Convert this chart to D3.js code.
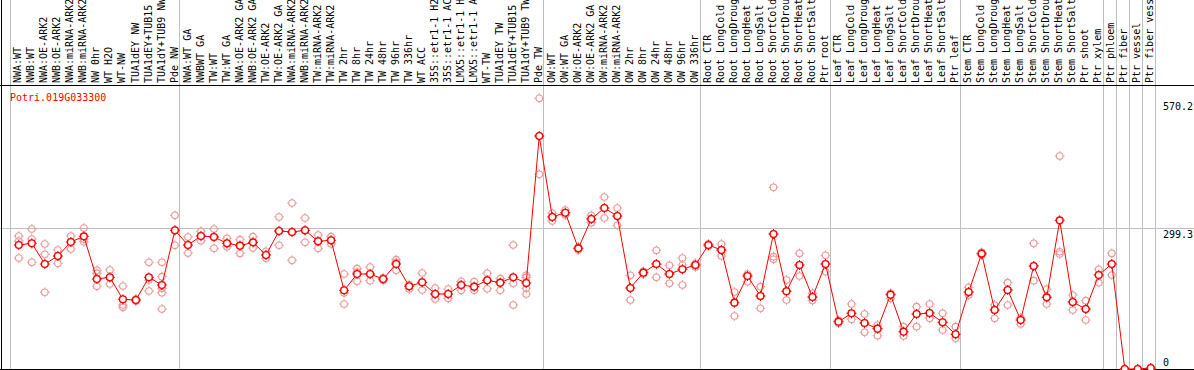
<!DOCTYPE html>
<html>
<head>
<meta charset="utf-8">
<script src="https://cdn.jsdelivr.net/npm/d3@7"></script>
<style>
  html, body { margin: 0; padding: 0; background: #fff; }
  svg { display: block; }
  text { font-family: "DejaVu Sans Mono", monospace; font-size: 10px; }
</style>
</head>
<body>
<div id="chart"></div>
<script>
"use strict";

const geneName = "Potri.019G033300";

const categories = [
  "NWA:WT", "NWB:WT", "NWA:OE-ARK2", "NWB:OE-ARK2", "NWA:miRNA-ARK2", "NWB:miRNA-ARK2",
  "NW 0hr", "WT H2O", "WT-NW", "TUA1dEY NW", "TUA1dEY+TUB15 NW", "TUA1dY+TUB9 NW", "Pde NW",
  "NWA:WT GA", "NWBWT GA", "TW:WT", "TW:WT GA", "NWA:OE-ARK2 GA", "NWB:OE-ARK2 GA",
  "TW:OE-ARK2", "TW:OE-ARK2 GA", "NWA:miRNA-ARK2 GA", "NWB:miRNA-ARK2 GA", "TW:miRNA-ARK2",
  "TW:miRNA-ARK2 GA", "TW 2hr", "TW 8hr", "TW 24hr", "TW 48hr", "TW 96hr", "TW 336hr",
  "WT ACC", "35S::etr1-1 H2O", "35S::etr1-1 ACC", "LMX5::etr1-1 H2O", "LMX5::etr1-1 ACC",
  "WT-TW", "TUA1dEY TW", "TUA1dEY+TUB15 TW", "TUA1dY+TUB9 TW", "Pde TW",
  "OW:WT", "OW:WT GA", "OW:OE-ARK2", "OW:OE-ARK2 GA", "OW:miRNA-ARK2", "OW:miRNA-ARK2 GA",
  "OW 2hr", "OW 8hr", "OW 24hr", "OW 48hr", "OW 96hr", "OW 336hr",
  "Root CTR", "Root LongCold", "Root LongDrought", "Root LongHeat", "Root LongSalt",
  "Root ShortCold", "Root ShortDrought", "Root ShortHeat", "Root ShortSalt", "Ptr root",
  "Leaf CTR", "Leaf LongCold", "Leaf LongDrought", "Leaf LongHeat", "Leaf LongSalt",
  "Leaf ShortCold", "Leaf ShortDrought", "Leaf ShortHeat", "Leaf ShortSalt", "Ptr leaf",
  "Stem CTR", "Stem LongCold", "Stem LongDrought", "Stem LongHeat", "Stem LongSalt",
  "Stem ShortCold", "Stem ShortDrought", "Stem ShortHeat", "Stem ShortSalt", "Ptr shoot",
  "Ptr xylem", "Ptr phloem", "Ptr fiber", "Ptr vessel", "Ptr fiber vessel"
];

// number of samples in each block between the grey separators
const groupSizes = [13, 28, 12, 10, 10, 11, 1, 1, 1, 1];

const means = [
  262.6, 266.2, 222.4, 239.3, 269.0, 281.0, 190.6, 194.2, 147.6, 146.1, 194.2, 177.9, 293.8,
  262.6, 281.7, 279.6, 266.2, 261.2, 268.3, 241.5, 292.3, 290.2, 293.8, 270.5, 272.6, 166.7,
  201.2, 201.2, 190.6, 222.4, 175.2, 183.6, 158.9, 158.9, 177.9, 174.3, 187.9, 182.8, 194.2,
  182.1, 493.5,
  322.0, 331.0, 255.6, 317.7, 341.0, 324.0, 171.6, 204.0, 222.4, 201.2, 211.2, 220.3,
  262.6, 252.0, 140.5, 197.0, 154.6, 286.0, 164.6, 220.3, 152.5, 222.4,
  100.2, 118.0, 97.4, 85.4, 157.4, 79.0, 116.5, 118.6, 98.9, 73.5,
  163.0, 244.3, 125.0, 167.3, 103.8, 218.2, 151.8, 314.9, 141.9, 127.0, 199.1,
  222.4, 0, 0, 2
];

const replicates = [
  [281.7, 271, 235], [296.5, 275.3, 226], [264.8, 242.9, 162.6], [252, 239, 223.8],
  [281.7, 269, 254.2], [298.6, 275, 269.6], [209, 203, 175.2], [209.7, 194, 180],
  [175.8, 135.6, 130.7], [148, 146, 144], [226, 188.5, 165.2],
  [226, 195.5, 170.9, 161.6, 127], [325.5, 293.8, 262],
  [279.6, 262.6, 245.7], [291.6, 281.7, 271.7], [296.5, 279.6, 255.6], [276.8, 266.2, 259],
  [273.9, 261.2, 245], [280.2, 268.3, 256.3], [249.3, 241.5, 234.5], [322, 292.3, 262],
  [351.6, 290.2, 230.2], [319.8, 293.8, 268.3], [283.8, 270.5, 255.6], [280.2, 272.6, 264.8],
  [201.2, 161, 137.7], [212.4, 205, 185.7], [216, 201.2, 187], [193, 190.6, 188],
  [231.5, 226, 209], [179, 175.2, 169.4], [203.3, 183.6, 167.3], [171.6, 158.9, 148.3],
  [169.4, 158.9, 149.7], [185.7, 177.9, 166.7], [184.9, 174.3, 166.7], [202.7, 187.9, 170],
  [191.3, 182.8, 166.7], [262.6, 181.5, 135.6], [198.5, 194.2, 170.9, 158.9],
  [573.4, 493.5, 412.4],
  [329.8, 322, 313.5], [336.8, 331, 326], [258, 255.6, 252], [325.5, 317.7, 309.9],
  [364.3, 341, 319.8], [341, 324, 304.4], [198.5, 171.6, 146.1], [207, 204, 201],
  [251.4, 222.4, 194.2], [219.6, 201.2, 181.5], [235.1, 220.3, 177.9], [224, 220.3, 216],
  [265, 262.6, 260], [264.8, 252, 239.3], [163, 140.5, 112.3], [201.2, 197, 184.9],
  [174.3, 154.6, 128.5], [384.8, 237.9, 232.3], [188.5, 164.6, 146.1], [245, 220.3, 197],
  [160.3, 152.5, 145], [240.8, 222.4, 206.1],
  [103, 100.2, 97], [137.7, 118, 105.3], [116.5, 97.4, 77.7], [93.2, 85.4, 70.5],
  [160, 157.4, 149.7], [89.6, 79, 69.9], [132, 116.5, 89.6], [137.7, 118.6, 107.4],
  [118, 98.9, 82.6], [89.6, 73.5, 65],
  [173, 163, 156.7], [247, 244.3, 241], [135.6, 125, 107.4], [182.8, 167.3, 135.6],
  [108, 103.8, 95.3], [266.2, 218.2, 187], [168.8, 151.8, 137.7], [451.1, 248.4, 243.6],
  [156.7, 141.9, 125], [144.7, 127, 103.8], [211.2, 199.1, 182.8],
  [245, 222.4, 199.1], [0, 0], [0, 0], [2, 2]
];

const yMax = 570.2;
const yTicks = [570.2, 299.3, 0];
const gridValue = 299.3;

const W = 1194, H = 370;
const labelBottom = 83;
const frameTop = 85.5;
const frameBottom = 369.5;

const svg = d3.select("#chart").append("svg")
  .attr("width", W)
  .attr("height", H);

const x = d3.scaleBand()
  .domain(d3.range(categories.length))
  .range([10, 1155])
  .paddingInner(0)
  .paddingOuter(0);

const px = (i) => x(i) + 8.8;

const y = d3.scaleLinear()
  .domain([0, yMax])
  .range([369, 99.8]);

// group separators
let bounds = [0];
groupSizes.forEach((n) => bounds.push(bounds[bounds.length - 1] + n));

svg.append("g")
  .selectAll("line")
  .data(bounds)
  .enter()
  .append("line")
  .attr("x1", (k) => Math.round(k < categories.length ? x(k) : x.range()[1]) + 0.5)
  .attr("x2", (k) => Math.round(k < categories.length ? x(k) : x.range()[1]) + 0.5)
  .attr("y1", 0)
  .attr("y2", frameBottom)
  .attr("stroke", "#c0c0c0")
  .attr("stroke-width", 1);

// horizontal grid line
svg.append("line")
  .attr("x1", 0)
  .attr("x2", W)
  .attr("y1", Math.round(y(gridValue)) + 0.5)
  .attr("y2", Math.round(y(gridValue)) + 0.5)
  .attr("stroke", "#c0c0c0");

// category labels, rotated
svg.append("g")
  .selectAll("text")
  .data(categories)
  .enter()
  .append("text")
  .attr("transform", (d, i) => `translate(${px(i) + 2.6}, ${labelBottom}) rotate(-90)`)
  .attr("fill", "#000")
  .text((d) => d);

// frame
svg.append("line")
  .attr("x1", 0).attr("x2", W)
  .attr("y1", frameTop).attr("y2", frameTop)
  .attr("stroke", "#000");
svg.append("line")
  .attr("x1", 0).attr("x2", W)
  .attr("y1", frameBottom).attr("y2", frameBottom)
  .attr("stroke", "#000");
svg.append("line")
  .attr("x1", 1.5).attr("x2", 1.5)
  .attr("y1", 0).attr("y2", H)
  .attr("stroke", "#000");

// y tick labels on the right
svg.append("g")
  .selectAll("text")
  .data(yTicks)
  .enter()
  .append("text")
  .attr("x", 1163)
  .attr("y", (v) => Math.min(y(v) + 10, 366))
  .attr("fill", "#000")
  .text((v) => v);

svg.append("text")
  .attr("x", 10)
  .attr("y", 101)
  .attr("fill", "#ff0000")
  .text(geneName);

// small spikes round each circle, like the original bitmap markers
function marker(g, cx, cy, r, color, width, fill) {
  g.append("circle")
    .attr("cx", cx).attr("cy", cy).attr("r", r)
    .attr("fill", fill)
    .attr("stroke", color)
    .attr("stroke-width", width);
  const s = r + 1.6;
  g.append("path")
    .attr("d", `M${cx},${cy - s}V${cy - r}M${cx},${cy + r}V${cy + s}` +
      `M${cx - s},${cy}H${cx - r}M${cx + r},${cy}H${cx + s}`)
    .attr("stroke", color)
    .attr("stroke-width", 1)
    .attr("fill", "none");
}

// replicate points
const reps = svg.append("g");
replicates.forEach((list, i) => {
  list.forEach((v) => marker(reps, px(i), y(v), 3.3, "#ec9a9a", 1.1, "none"));
});

// mean line
svg.append("path")
  .datum(means)
  .attr("fill", "none")
  .attr("stroke", "#ff0000")
  .attr("stroke-width", 1)
  .attr("d", d3.line().x((d, i) => px(i)).y((d) => y(d)));

// mean points
const mg = svg.append("g");
means.forEach((v, i) => marker(mg, px(i), y(v), 3.4, "#ff0000", 1.4, "#fff"));
</script>
</body>
</html>
